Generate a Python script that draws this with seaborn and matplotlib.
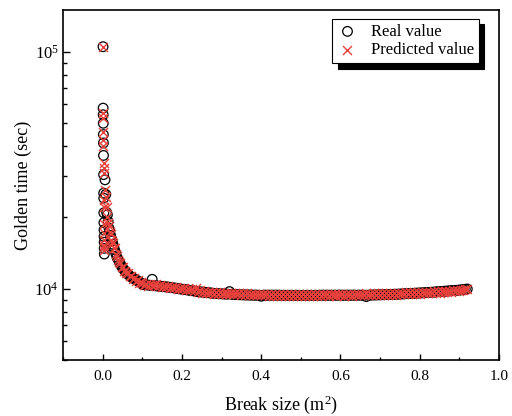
import matplotlib
matplotlib.use("Agg")
import matplotlib.pyplot as plt
import matplotlib.ticker as mticker
import seaborn as sns
import numpy as np

# ---- data ----
# cluster at very small break sizes
small_size = [0.0010, 0.0012, 0.0014, 0.0016, 0.0018, 0.0020, 0.0022, 0.0024, 0.0026,
              0.0028, 0.0030, 0.0032, 0.0034, 0.0036, 0.0038, 0.0040, 0.0042]
small_real = [105000, 57800, 54200, 49900, 44700, 41200, 36500, 30300, 25300,
              24100, 20900, 19000, 17700, 16600, 15700, 14800, 14000]
small_pred = [104500, 55100, 52500, 46000, 42500, 40000, 33900, 32300, 30700,
              23700, 22200, 18800, 17200, 16100, 15300, 15000, 14600]

# steep part of the curve
steep_size = [0.006, 0.008, 0.010, 0.012, 0.014, 0.016, 0.018, 0.020, 0.022, 0.024,
              0.026, 0.028, 0.030, 0.033, 0.036, 0.039, 0.042, 0.045, 0.048, 0.051,
              0.054, 0.057, 0.060, 0.064, 0.068, 0.072, 0.076, 0.080, 0.084, 0.088,
              0.092, 0.096]
steep_real = [28800, 25000, 21000, 20500, 19200, 18000, 17500, 16800, 16300, 15900,
              15400, 15000, 14600, 14100, 13600, 13300, 13000, 12700, 12400, 12200,
              12000, 11850, 11700, 11500, 11350, 11200, 11100, 11000, 10900, 10800,
              10700, 10600]
steep_pred = [26000, 24300, 22200, 20000, 19000, 18300, 17300, 17000, 16100, 15700,
              15600, 14800, 14800, 14000, 13800, 13200, 12900, 12800, 12300, 12300,
              11900, 11900, 11600, 11600, 11300, 11300, 11000, 11100, 10800, 10900,
              10600, 10700]

# flat part of the curve
flat_size = [
    0.100, 0.105, 0.110, 0.115, 0.120, 0.125, 0.130, 0.135, 0.140, 0.145,
    0.150, 0.155, 0.160, 0.165, 0.170, 0.175, 0.180, 0.185, 0.190, 0.195,
    0.200, 0.205, 0.210, 0.215, 0.220, 0.225, 0.230, 0.235, 0.240, 0.245,
    0.250, 0.255, 0.260, 0.265, 0.270, 0.275, 0.280, 0.285, 0.290, 0.295,
    0.300, 0.305, 0.310, 0.315, 0.320, 0.325, 0.330, 0.335, 0.340, 0.345,
    0.350, 0.355, 0.360, 0.365, 0.370, 0.375, 0.380, 0.385, 0.390, 0.395,
    0.400, 0.405, 0.410, 0.415, 0.420, 0.425, 0.430, 0.435, 0.440, 0.445,
    0.450, 0.455, 0.460, 0.465, 0.470, 0.475, 0.480, 0.485, 0.490, 0.495,
    0.500, 0.505, 0.510, 0.515, 0.520, 0.525, 0.530, 0.535, 0.540, 0.545,
    0.550, 0.555, 0.560, 0.565, 0.570, 0.575, 0.580, 0.585, 0.590, 0.595,
    0.600, 0.605, 0.610, 0.615, 0.620, 0.625, 0.630, 0.635, 0.640, 0.645,
    0.650, 0.655, 0.660, 0.665, 0.670, 0.675, 0.680, 0.685, 0.690, 0.695,
    0.700, 0.705, 0.710, 0.715, 0.720, 0.725, 0.730, 0.735, 0.740, 0.745,
    0.750, 0.755, 0.760, 0.765, 0.770, 0.775, 0.780, 0.785, 0.790, 0.795,
    0.800, 0.805, 0.810, 0.815, 0.820, 0.825, 0.830, 0.835, 0.840, 0.845,
    0.850, 0.855, 0.860, 0.865, 0.870, 0.875, 0.880, 0.885, 0.890, 0.895,
    0.900, 0.905, 0.910, 0.915, 0.920,
]
flat_real = [
    10450, 10400, 10380, 10350, 10330, 10950, 10300, 10280, 10250, 10240,
    10220, 10200, 10170, 10160, 10130, 10100, 10070, 10040, 10010, 9980,
    9950, 9930, 9900, 9870, 9840, 9810, 9780, 9750, 9720, 9700,
    9680, 9660, 9640, 9620, 9600, 9580, 9560, 9540, 9530, 9520,
    9510, 9500, 9490, 9480, 9720, 9470, 9460, 9450, 9440, 9430,
    9420, 9420, 9410, 9410, 9400, 9400, 9390, 9390, 9390, 9380,
    9290, 9380, 9390, 9380, 9390, 9380, 9390, 9380, 9390, 9380,
    9380, 9370, 9380, 9370, 9380, 9370, 9380, 9370, 9380, 9370,
    9370, 9380, 9370, 9380, 9370, 9380, 9370, 9380, 9370, 9380,
    9380, 9390, 9380, 9390, 9380, 9390, 9380, 9390, 9380, 9390,
    9390, 9380, 9390, 9380, 9390, 9380, 9390, 9390, 9380, 9390,
    9390, 9380, 9390, 9260, 9390, 9400, 9400, 9410, 9410, 9420,
    9420, 9430, 9430, 9440, 9450, 9450, 9460, 9470, 9470, 9480,
    9490, 9500, 9510, 9520, 9530, 9540, 9550, 9560, 9570, 9580,
    9590, 9600, 9610, 9620, 9630, 9640, 9660, 9670, 9690, 9700,
    9720, 9730, 9750, 9760, 9780, 9790, 9810, 9820, 9840, 9850,
    9860, 9890, 9910, 9940, 9970,
]
flat_pred = [
    10550, 10350, 10500, 10300, 10450, 10400, 10350, 10420, 10250, 10350,
    10200, 10300, 10150, 10250, 10100, 10200, 10050, 10150, 10000, 10100,
    9950, 10050, 9900, 10000, 9850, 9950, 9800, 10050, 9650, 9900,
    9600, 9800, 9620, 9720, 9560, 9700, 9540, 9660, 9520, 9640,
    9500, 9620, 9480, 9600, 9470, 9580, 9460, 9570, 9450, 9560,
    9420, 9560, 9400, 9550, 9390, 9540, 9380, 9540, 9370, 9530,
    9360, 9530, 9360, 9520, 9350, 9520, 9350, 9520, 9350, 9510,
    9340, 9510, 9350, 9520, 9340, 9510, 9350, 9520, 9340, 9510,
    9350, 9520, 9340, 9510, 9350, 9520, 9340, 9510, 9350, 9520,
    9350, 9520, 9360, 9530, 9350, 9520, 9360, 9530, 9350, 9520,
    9360, 9530, 9350, 9520, 9360, 9530, 9350, 9540, 9360, 9530,
    9370, 9540, 9360, 9550, 9370, 9540, 9380, 9560, 9390, 9570,
    9400, 9570, 9410, 9580, 9420, 9590, 9430, 9600, 9440, 9610,
    9460, 9620, 9470, 9640, 9480, 9650, 9500, 9660, 9510, 9680,
    9530, 9690, 9550, 9710, 9570, 9720, 9590, 9740, 9610, 9760,
    9630, 9780, 9650, 9800, 9680, 9820, 9700, 9840, 9730, 9860,
    9780, 9900, 9850, 9950, 9960,
]

break_size = small_size + steep_size + flat_size
real_value = small_real + steep_real + flat_real
predicted_value = small_pred + steep_pred + flat_pred

x_ticks = [0.0, 0.2, 0.4, 0.6, 0.8, 1.0]
x_tick_labels = ["0.0", "0.2", "0.4", "0.6", "0.8", "1.0"]

# ---- style ----
plt.rcParams["font.family"] = ["Liberation Serif", "DejaVu Serif"]
plt.rcParams["mathtext.fontset"] = "custom"
plt.rcParams["mathtext.rm"] = "Liberation Serif"
plt.rcParams["mathtext.it"] = "Liberation Serif:italic"
plt.rcParams["mathtext.bf"] = "Liberation Serif:bold"
plt.rcParams["xtick.direction"] = "in"
plt.rcParams["ytick.direction"] = "in"

fig = plt.figure(figsize=(5.12, 4.16), dpi=100)
ax = fig.add_axes([63 / 512, 1 - 360 / 416, 436 / 512, 350 / 416])

red = "#E8413C"
sns.scatterplot(x=break_size, y=real_value, ax=ax, marker="o", s=48,
                color="black", facecolor="none", edgecolor="black",
                linewidth=0.9, label="Real value", zorder=2)
sns.scatterplot(x=break_size, y=predicted_value, ax=ax, marker="x", s=42,
                color=red, linewidth=1.0, label="Predicted value", zorder=3)

ax.set_yscale("log")
ax.set_ylim(5000, 150000)
ax.set_xlim(-0.1, 1.0)
ax.set_xticks(x_ticks)
ax.set_xticklabels(x_tick_labels)
ax.xaxis.set_minor_locator(mticker.MultipleLocator(0.1))
ax.yaxis.set_major_locator(mticker.LogLocator(base=10, numticks=10))
ax.yaxis.set_minor_locator(mticker.LogLocator(base=10, subs=np.arange(2, 10), numticks=20))
ax.yaxis.set_minor_formatter(mticker.NullFormatter())

ax.tick_params(which="major", direction="in", length=4.5, width=1.0, colors="black")
ax.tick_params(which="minor", direction="in", length=2.5, width=1.0, colors="black")
ax.tick_params(axis="x", which="both", top=False, bottom=True, labelsize=11, pad=7)
ax.tick_params(axis="y", which="major", length=5)
ax.tick_params(axis="y", which="minor", length=3)
ax.tick_params(axis="y", which="both", right=False, left=True, labelsize=12, pad=3)

for sp in ax.spines.values():
    sp.set_visible(True)
    sp.set_linewidth(1.2)
    sp.set_color("black")

ax.set_xlabel("Break size (m$^2$)", fontsize=13, labelpad=8)
ax.set_ylabel("Golden time (sec)", fontsize=13, labelpad=2)

leg = ax.legend(loc="upper right", bbox_to_anchor=(0.954, 0.975), fontsize=12,
                frameon=True, fancybox=False, edgecolor="black",
                shadow={"color": "black", "alpha": 1.0, "ox": 4, "oy": -4},
                handletextpad=0.8, handlelength=1.2, borderpad=0.3,
                labelspacing=0.15, borderaxespad=0)
leg.get_frame().set_linewidth(0.8)
leg.get_frame().set_alpha(1.0)

fig.savefig("out.png", dpi=100)
